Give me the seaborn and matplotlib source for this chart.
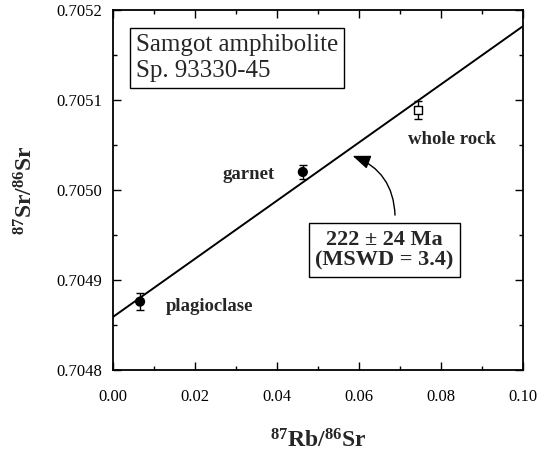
import pandas as pd
import numpy as np
import seaborn as sns
import matplotlib.pyplot as plt

# values
samples = ["plagioclase", "garnet", "whole rock"]
rb_sr = [0.0066, 0.0463, 0.0744]
sr_sr = [0.704876, 0.705020, 0.705089]
sr_err = [0.0000094, 0.0000083, 0.0000100]
kind = ["mineral", "mineral", "whole rock"]

# isochron end points
line_x = [0.0, 0.1]
line_y = [0.704859, 0.705182]

# label anchor positions (data coords)
label_x = [0.0129, 0.0268, 0.0720]
label_y = [0.704871, 0.705017, 0.705056]

sns.set_theme(style="ticks")
plt.rcParams["font.family"] = ["Liberation Serif", "DejaVu Serif"]
plt.rcParams["mathtext.fontset"] = "custom"
plt.rcParams["mathtext.rm"] = "Liberation Serif"
plt.rcParams["mathtext.bf"] = "Liberation Serif:bold"

df = pd.DataFrame({"x": rb_sr, "y": sr_sr, "err": sr_err, "kind": kind, "name": samples})

fig = plt.figure(figsize=(5.47, 4.54), dpi=100)
ax = fig.add_axes([0.2066, 0.185, 0.7495, 0.793])

sns.lineplot(x=line_x, y=line_y, color="black", lw=1.4, ax=ax, zorder=1)
ax.errorbar(df["x"], df["y"], yerr=df["err"], fmt="none", ecolor="black",
            elinewidth=1.0, capsize=3, capthick=1.0, zorder=2)
sns.scatterplot(data=df, x="x", y="y", hue="kind", style="kind",
                palette={"mineral": "black", "whole rock": "white"},
                markers={"mineral": "o", "whole rock": "s"},
                s=40, edgecolor="black", linewidth=1.0, legend=False,
                ax=ax, zorder=3)

for name, lx, ly in zip(samples, label_x, label_y):
    ax.text(lx, ly, name, fontsize=13.5, fontweight="bold", ha="left", va="center")

ax.text(0.056, 0.933, "Samgot amphibolite\nSp. 93330-45", transform=ax.transAxes,
        fontsize=18, ha="left", va="top",
        bbox=dict(boxstyle="square,pad=0.25", fc="white", ec="black", lw=1.0))

ax.text(0.06622, 0.704933, "222 \u00b1 24 Ma\n(MSWD = 3.4)", fontsize=16,
        fontweight="bold", ha="center", va="center", multialignment="center",
        linespacing=1.05,
        bbox=dict(boxstyle="square,pad=0.3", fc="white", ec="black", lw=1.0))

ax.annotate("", xy=(0.0578, 0.705039), xytext=(0.0688, 0.704969),
            arrowprops=dict(arrowstyle="-|>,head_length=0.9,head_width=0.35",
                            color="black", lw=1.0,
                            connectionstyle="arc3,rad=0.35"))

ax.set_xlim(0, 0.1)
ax.set_ylim(0.7048, 0.7052)
ax.set_xticks(np.arange(0, 0.1001, 0.02))
ax.set_xticks(np.arange(0, 0.1001, 0.01), minor=True)
ax.set_yticks([0.7048, 0.7049, 0.7050, 0.7051, 0.7052])
ax.set_yticks(np.arange(0.7048, 0.70521, 0.00005), minor=True)
ax.set_xticklabels(["0.00", "0.02", "0.04", "0.06", "0.08", "0.10"])
ax.set_yticklabels(["0.7048", "0.7049", "0.7050", "0.7051", "0.7052"])
ax.tick_params(which="both", direction="in", top=True, right=True,
               colors="black", labelsize=12, width=1.0)
ax.tick_params(which="major", length=6)
ax.tick_params(which="minor", length=3)
ax.tick_params(axis="x", pad=14)
ax.tick_params(axis="y", pad=8)
for sp in ax.spines.values():
    sp.set_linewidth(1.3)
    sp.set_color("black")

ax.set_xlabel(r"$\mathbf{^{87}Rb/^{86}Sr}$", fontsize=17, labelpad=17)
ax.set_ylabel(r"$\mathbf{^{87}Sr/^{86}Sr}$", fontsize=17, labelpad=13)

fig.savefig("out.png", dpi=100)
